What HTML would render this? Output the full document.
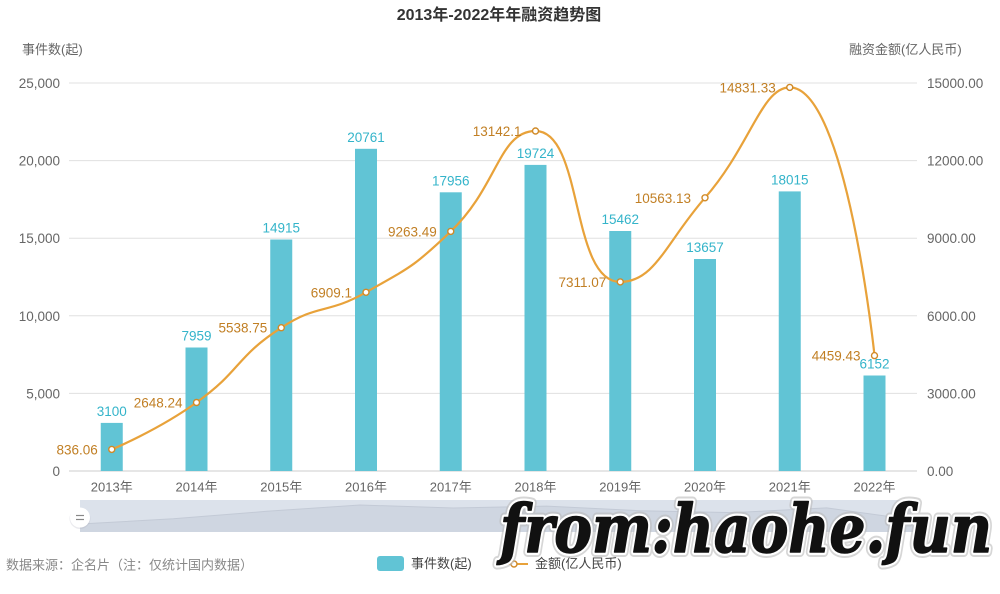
<!DOCTYPE html>
<html><head><meta charset="utf-8"><style>
html,body{margin:0;padding:0;background:#fff;}
svg{display:block;font-family:"Liberation Sans","Noto Sans CJK SC",sans-serif;}
</style></head><body>
<svg width="1000" height="594" viewBox="0 0 1000 594" xmlns="http://www.w3.org/2000/svg">
<rect width="1000" height="594" fill="#fff"/>
<!-- title -->
<text x="499" y="20" text-anchor="middle" font-size="16" font-weight="bold" fill="#333">2013年-2022年年融资趋势图</text>
<!-- axis names -->
<text x="22" y="54" font-size="13" fill="#666">事件数(起)</text>
<text x="849" y="54" font-size="13" fill="#666">融资金额(亿人民币)</text>
<!-- gridlines -->
<g stroke="#e0e0e0" stroke-width="1">
<line x1="69" y1="83" x2="917" y2="83"/>
<line x1="69" y1="160.6" x2="917" y2="160.6"/>
<line x1="69" y1="238.2" x2="917" y2="238.2"/>
<line x1="69" y1="315.8" x2="917" y2="315.8"/>
<line x1="69" y1="393.4" x2="917" y2="393.4"/>
</g>
<line x1="69" y1="471" x2="917" y2="471" stroke="#ccc" stroke-width="1"/>
<!-- left labels -->
<g font-size="13.5" fill="#666" text-anchor="end">
<text x="60" y="88">25,000</text>
<text x="60" y="165.6">20,000</text>
<text x="60" y="243.2">15,000</text>
<text x="60" y="320.8">10,000</text>
<text x="60" y="398.4">5,000</text>
<text x="60" y="476">0</text>
</g>
<!-- right labels -->
<g font-size="13.5" fill="#666">
<text x="927" y="88">15000.00</text>
<text x="927" y="165.6">12000.00</text>
<text x="927" y="243.2">9000.00</text>
<text x="927" y="320.8">6000.00</text>
<text x="927" y="398.4">3000.00</text>
<text x="927" y="476">0.00</text>
</g>
<!-- x labels -->
<g font-size="13" fill="#666" text-anchor="middle">
<text x="111.75" y="491.5">2013年</text>
<text x="196.5" y="491.5">2014年</text>
<text x="281.25" y="491.5">2015年</text>
<text x="366" y="491.5">2016年</text>
<text x="450.75" y="491.5">2017年</text>
<text x="535.5" y="491.5">2018年</text>
<text x="620.25" y="491.5">2019年</text>
<text x="705" y="491.5">2020年</text>
<text x="789.75" y="491.5">2021年</text>
<text x="874.5" y="491.5">2022年</text>
</g>
<!-- bars -->
<g fill="#61c4d5">
<rect x="100.75" y="422.9" width="22" height="48.1"/>
<rect x="185.5" y="347.5" width="22" height="123.5"/>
<rect x="270.25" y="239.5" width="22" height="231.5"/>
<rect x="355" y="148.8" width="22" height="322.2"/>
<rect x="439.75" y="192.3" width="22" height="278.7"/>
<rect x="524.5" y="164.9" width="22" height="306.1"/>
<rect x="609.25" y="231" width="22" height="240"/>
<rect x="694" y="259" width="22" height="212"/>
<rect x="778.75" y="191.4" width="22" height="279.6"/>
<rect x="863.5" y="375.5" width="22" height="95.5"/>
</g>
<!-- line -->
<path d="M111.75,449.4 C111.75,449.4 157.39,430.58 196.5,402.5 C242.14,369.73 234.5,358.1 281.25,327.7 C319.24,303.0 326.32,314.84 366,292.3 C411.08,266.69 413.24,267.1 450.75,231.4 C497.98,186.45 498.93,131 535.5,131 C583.67,131 570.11,281.9 620.25,281.9 C654.84,281.9 665.87,242.70 705,197.8 C750.61,145.46 761.69,87.4 789.75,87.4 C846.46,87.4 874.5,355.6 874.5,355.6" fill="none" stroke="#e8a23a" stroke-width="2.2"/>
<g fill="#fff" stroke="#d08a28" stroke-width="1.4">
<circle cx="111.75" cy="449.4" r="3"/>
<circle cx="196.5" cy="402.5" r="3"/>
<circle cx="281.25" cy="327.7" r="3"/>
<circle cx="366" cy="292.3" r="3"/>
<circle cx="450.75" cy="231.4" r="3"/>
<circle cx="535.5" cy="131" r="3"/>
<circle cx="620.25" cy="281.9" r="3"/>
<circle cx="705" cy="197.8" r="3"/>
<circle cx="789.75" cy="87.4" r="3"/>
<circle cx="874.5" cy="355.6" r="3"/>
</g>
<!-- bar labels -->
<g font-size="13.5" fill="#34b4ca" text-anchor="middle">
<text x="111.75" y="415.9">3100</text>
<text x="196.5" y="340.5">7959</text>
<text x="281.25" y="232.5">14915</text>
<text x="366" y="141.8">20761</text>
<text x="450.75" y="185.3">17956</text>
<text x="535.5" y="157.9">19724</text>
<text x="620.25" y="224">15462</text>
<text x="705" y="252">13657</text>
<text x="789.75" y="184.4">18015</text>
<text x="874.5" y="368.5">6152</text>
</g>
<!-- line labels -->
<g font-size="13.5" fill="#c17f24" text-anchor="end">
<text x="97.75" y="454.4">836.06</text>
<text x="182.5" y="407.5">2648.24</text>
<text x="267.25" y="332.7">5538.75</text>
<text x="352" y="297.3">6909.1</text>
<text x="436.75" y="236.4">9263.49</text>
<text x="521.5" y="136">13142.1</text>
<text x="606.25" y="286.9">7311.07</text>
<text x="691" y="202.8">10563.13</text>
<text x="775.75" y="92.4">14831.33</text>
<text x="860.5" y="360.6">4459.43</text>
</g>
<!-- data zoom slider -->
<rect x="80" y="500" width="840" height="32" fill="#dce2eb"/>
<polygon points="80,532 80,524 173.3,518.8 266.7,511.3 360,505 453.3,508 546.7,506.1 640,510.7 733.3,512.6 826.7,507.9 920,520.7 920,532" fill="#cfd6e1"/>
<polyline points="80,524 173.3,518.8 266.7,511.3 360,505 453.3,508 546.7,506.1 640,510.7 733.3,512.6 826.7,507.9 920,520.7" fill="none" stroke="#c3cad6" stroke-width="1"/>
<circle cx="80" cy="518.5" r="10.5" fill="#aab" opacity="0.25"/>
<circle cx="80" cy="517.5" r="10" fill="#fff"/>
<line x1="76" y1="515.5" x2="84" y2="515.5" stroke="#888" stroke-width="1.2"/>
<line x1="76" y1="519.5" x2="84" y2="519.5" stroke="#888" stroke-width="1.2"/>
<circle cx="920" cy="517.5" r="10" fill="#fff"/>
<line x1="916" y1="515.5" x2="924" y2="515.5" stroke="#888" stroke-width="1.2"/>
<line x1="916" y1="519.5" x2="924" y2="519.5" stroke="#888" stroke-width="1.2"/>
<!-- source -->
<text x="6" y="569.5" font-size="13" fill="#888">数据来源：企名片（注：仅统计国内数据）</text>
<!-- legend -->
<rect x="377" y="556" width="27" height="15" rx="3" fill="#61c4d5"/>
<text x="411" y="568" font-size="13" fill="#444">事件数(起)</text>
<line x1="500" y1="564" x2="528" y2="564" stroke="#e8a23a" stroke-width="2"/>
<circle cx="514" cy="564" r="3" fill="#fff" stroke="#d08a28" stroke-width="1.4"/>
<text x="535" y="568" font-size="13" fill="#444">金额(亿人民币)</text>
<!-- watermark -->
<g font-family="'DejaVu Serif',serif" font-style="italic" font-weight="bold" font-size="66">
<text x="500" y="552" textLength="492" lengthAdjust="spacingAndGlyphs" fill="none" stroke="#bbb" stroke-width="10" stroke-linejoin="round" opacity="0.6">from:haohe.fun</text>
<text x="500" y="552" textLength="492" lengthAdjust="spacingAndGlyphs" fill="none" stroke="#fff" stroke-width="6" stroke-linejoin="round">from:haohe.fun</text>
<text x="500" y="552" textLength="492" lengthAdjust="spacingAndGlyphs" fill="#111" stroke="#111" stroke-width="1.5" stroke-linejoin="round">from:haohe.fun</text>
</g>
</svg>
</body></html>
